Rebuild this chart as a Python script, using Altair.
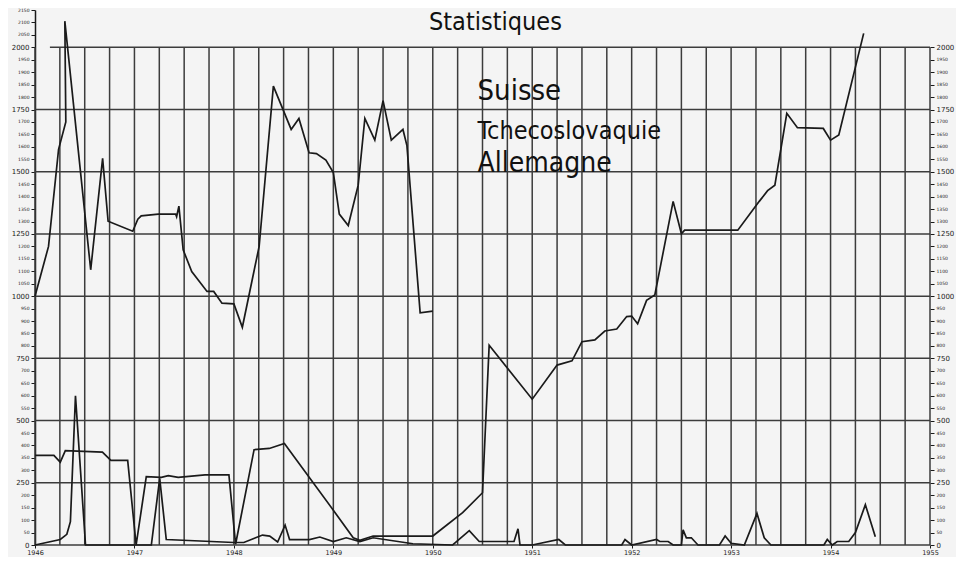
import altair as alt
import pandas as pd

# ---------------- data ----------------
series_names = ["Suisse", "Tchecoslovaquie", "Allemagne"]

suisse_year = [1946.0, 1946.136, 1946.237, 1946.31, 1946.30, 1946.56, 1946.68, 1946.735,
               1946.983, 1947.034, 1947.068, 1947.24, 1947.414, 1947.424, 1947.447, 1947.49,
               1947.576, 1947.73, 1947.797, 1947.88, 1948.0, 1948.085, 1948.254, 1948.397,
               1948.576, 1948.654, 1948.756, 1948.83, 1948.925, 1949.0, 1949.06, 1949.15,
               1949.25, 1949.317, 1949.417, 1949.5, 1949.583, 1949.7, 1949.74, 1949.873, 1950.0]
suisse_val = [1000, 1200, 1590, 1700, 2105, 1106, 1554, 1301,
              1261, 1309, 1323, 1330, 1330, 1319, 1362, 1186,
              1099, 1019, 1019, 972, 969, 875, 1200, 1844,
              1670, 1714, 1576, 1573, 1547, 1497, 1330, 1284,
              1446, 1714, 1627, 1786, 1627, 1670, 1605, 933, 940]

tchec_year = [1946.0, 1946.254, 1946.32, 1946.356, 1946.407, 1946.508, 1947.17, 1947.254,
              1947.32, 1948.0, 1948.1, 1948.288, 1948.36, 1948.44, 1948.515, 1948.56,
              1948.76, 1948.864, 1949.0, 1949.13, 1949.267, 1949.4, 1949.8, 1950.2,
              1950.367, 1950.467, 1950.817, 1950.857, 1950.877, 1951.0, 1951.267, 1951.333,
              1951.9, 1951.933, 1952.0, 1952.25, 1952.283, 1952.367, 1952.417, 1952.5,
              1952.517, 1952.55, 1952.6, 1952.667, 1952.883, 1952.94, 1953.0, 1953.133,
              1953.26, 1953.333, 1953.4, 1953.933, 1953.967, 1954.017, 1954.067, 1954.183,
              1954.25, 1954.35, 1954.45]
tchec_val = [0, 22, 43, 94, 600, 0, 0, 268,
             22, 10, 10, 40, 36, 12, 80, 22,
             22, 32, 14, 29, 14, 29, 5, 0,
             58, 14, 14, 65, 0, 0, 22, 0,
             0, 22, 0, 22, 14, 14, 0, 0,
             61, 29, 29, 0, 0, 36, 7, 0,
             127, 29, 0, 0, 22, 0, 14, 14,
             50, 162, 33]

allem_year = [1946.0, 1946.19, 1946.254, 1946.305, 1946.678, 1946.763, 1946.932, 1947.017,
              1947.119, 1947.27, 1947.34, 1947.44, 1947.71, 1947.95, 1948.017, 1948.203,
              1948.356, 1948.508, 1949.0, 1949.2, 1949.267, 1949.4, 1950.0, 1950.3,
              1950.5, 1950.567, 1951.0, 1951.25, 1951.4, 1951.5, 1951.63, 1951.73,
              1951.85, 1951.95, 1952.0, 1952.06, 1952.15, 1952.233, 1952.417, 1952.5,
              1952.533, 1953.067, 1953.283, 1953.367, 1953.44, 1953.56, 1953.667, 1953.927,
              1954.0, 1954.083, 1954.333]
allem_val = [360, 360, 333, 379, 373, 340, 340, 0,
             275, 272, 279, 272, 282, 282, 3, 383,
             388, 408, 140, 29, 19, 36, 36, 130,
             210, 803, 586, 723, 740, 817, 824, 860,
             868, 918, 920, 889, 983, 1005, 1381, 1251,
             1265, 1265, 1381, 1424, 1446, 1735, 1677, 1674,
             1627, 1648, 2056]

year_labels = [1946, 1947, 1948, 1949, 1950, 1951, 1952, 1953, 1954, 1955]
left_ticks = list(range(0, 2151, 50))
right_ticks = list(range(0, 2001, 50))
h_levels = [0, 250, 500, 750, 1000, 1250, 1500, 1750, 2000]
quarters = [1946 + 0.25 * k for k in range(37)]

title_text = "Statistiques"

# ---------------- tables ----------------
rows = []
for name, ys, vs in [("Suisse", suisse_year, suisse_val),
                     ("Tchecoslovaquie", tchec_year, tchec_val),
                     ("Allemagne", allem_year, allem_val)]:
    for i, (x, v) in enumerate(zip(ys, vs)):
        rows.append({"serie": name, "annee": x, "valeur": v, "ordre": i})
df = pd.DataFrame(rows)

vgrid = pd.DataFrame({"x": quarters, "y0": [0] * len(quarters), "y1": [2000] * len(quarters)})
hgrid = pd.DataFrame({"y": h_levels,
                      "x0": [1946.0] * (len(h_levels) - 1) + [1946.15],
                      "x1": [1955.0] * len(h_levels)})

legend_df = pd.DataFrame({"t": series_names,
                          "x": [1950.45, 1950.45, 1950.45],
                          "y": [1789, 1630, 1497],
                          "fs": [29, 25, 28]})
title_df = pd.DataFrame({"t": [title_text], "x": [1950.63], "y": [2068]})

# ---------------- scales ----------------
XS = alt.Scale(domain=[1946, 1955], nice=False, zero=False)
YS = alt.Scale(domain=[0, 2150], nice=False, zero=True)

INK = "#1a1a1a"
GRID = "#3c3c3c"
FONT = "Liberation Sans Narrow, DejaVu Sans Condensed, Liberation Sans, sans-serif"

label_size = {"condition": {"test": "datum.value % 250 === 0", "value": 7}, "value": 4.5}

left_axis = alt.Axis(orient="left", values=left_ticks, title=None, grid=False, format="d",
                     labelFontSize=label_size, labelOverlap=False, labelFlush=False,
                     tickSize=4, tickColor=INK, domainColor=INK, domainWidth=1.5,
                     labelColor="#222", labelPadding=2, labelFont="DejaVu Sans")
right_axis = alt.Axis(orient="right", values=right_ticks, title=None, grid=False, format="d",
                      labelFontSize=label_size, labelOverlap=False, labelFlush=False,
                      tickSize=4, tickColor=INK, domain=False,
                      labelColor="#222", labelPadding=2, labelFont="DejaVu Sans")
x_axis = alt.Axis(orient="bottom", values=year_labels, format="d", title=None, grid=False,
                  domain=False, labelFontSize=6.5, tickSize=3, tickColor=INK, labelColor="#222",
                  labelPadding=1, labelFlush=False, labelOverlap=False, labelFont="DejaVu Sans")

vrules = alt.Chart(vgrid).mark_rule(color=GRID, strokeWidth=1.5).encode(
    x=alt.X("x:Q", scale=XS, axis=x_axis),
    y=alt.Y("y0:Q", scale=YS, axis=left_axis),
    y2="y1:Q",
)

hrules = alt.Chart(hgrid).mark_rule(color=GRID, strokeWidth=1.5).encode(
    x=alt.X("x0:Q", scale=XS, axis=None),
    x2="x1:Q",
    y=alt.Y("y:Q", scale=YS, axis=right_axis),
)

lines = alt.Chart(df).mark_line(color=INK, strokeWidth=1.7, strokeJoin="miter").encode(
    x=alt.X("annee:Q", scale=XS, axis=None),
    y=alt.Y("valeur:Q", scale=YS, axis=None),
    detail="serie:N",
    order="ordre:Q",
)

legend_txt = alt.Chart(legend_df).mark_text(
    align="left", baseline="alphabetic", font=FONT, color="#111"
).encode(
    x=alt.X("x:Q", scale=XS, axis=None),
    y=alt.Y("y:Q", scale=YS, axis=None),
    text="t:N",
    size=alt.Size("fs:Q", scale=None, legend=None),
)

title_txt = alt.Chart(title_df).mark_text(
    align="center", baseline="alphabetic", font=FONT, fontSize=25, color="#111"
).encode(
    x=alt.X("x:Q", scale=XS, axis=None),
    y=alt.Y("y:Q", scale=YS, axis=None),
    text="t:N",
)

chart = alt.layer(vrules, hrules, lines, legend_txt, title_txt).resolve_axis(
    x="independent", y="independent"
).properties(
    width=895, height=535,
    autosize=alt.AutoSizeParams(type="none"),
    padding={"left": 27, "top": 2, "right": 26, "bottom": 12},
    background="#f4f4f4",
).configure_view(stroke=None)

chart.save("out.html", embed_options={"renderer": "svg", "actions": False})
